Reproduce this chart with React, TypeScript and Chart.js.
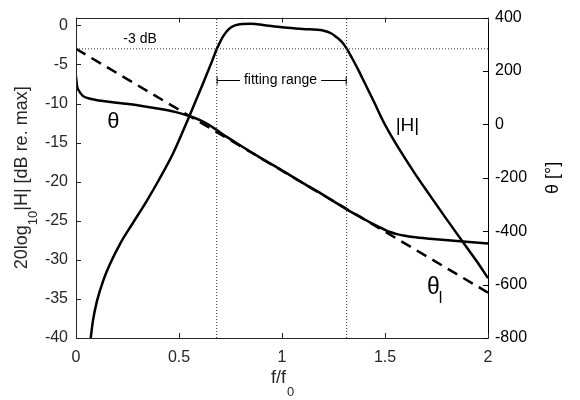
import React, { useEffect, useRef } from 'react';
import { Chart, registerables } from 'chart.js';

Chart.register(...registerables);

// ---- data ----
const magFreq = [0.0714, 0.0825, 0.102, 0.131, 0.17, 0.218, 0.277, 0.34, 0.403, 0.471, 0.544, 0.617, 0.66, 0.684, 0.714, 0.743, 0.772, 0.806, 0.854, 0.908, 1.0, 1.1, 1.199, 1.238, 1.267, 1.291, 1.314, 1.34, 1.369, 1.403, 1.447, 1.49, 1.534, 1.573, 1.646, 1.718, 1.796, 1.879, 1.942, 2.0];
const magDb = [-40, -37.75, -35.25, -32.75, -30.25, -27.75, -25.25, -22.6, -19.75, -16.4, -12, -7.4, -4.6, -3, -1.4, -0.44, 0, 0.19, 0.21, 0.06, -0.24, -0.45, -0.66, -1.0, -1.56, -2.12, -2.96, -4.19, -5.62, -7.44, -9.81, -12.2, -14.3, -16, -19, -21.75, -24.69, -27.75, -30.06, -32.34];

const phaseFreq = [0, 0.005, 0.015, 0.033, 0.06, 0.097, 0.17, 0.243, 0.32, 0.403, 0.48, 0.55, 0.602, 0.647, 0.683, 0.728, 0.8, 0.9, 1.0, 1.1, 1.2, 1.314, 1.35, 1.39, 1.427, 1.456, 1.476, 1.5, 1.524, 1.558, 1.597, 1.636, 1.718, 1.864, 2.0];
const phaseDeg = [180, 144, 125, 107, 98, 91.6, 83.5, 77, 69, 58.7, 47, 31.6, 16, -2.4, -21, -45, -80, -127, -172, -219, -264, -318, -334, -351, -367, -378, -386, -395, -403, -411, -417, -421.5, -428, -437.8, -445.8];

const fitFreq = [0, 2];
const fitDeg = [283, -630];

const fitRange = [0.683, 1.314];
const cutoffDb = -3;

const xTicks = [0, 0.5, 1, 1.5, 2];
const leftTicks = [-40, -35, -30, -25, -20, -15, -10, -5, 0];
const rightTicks = [-800, -600, -400, -200, 0, 200, 400];

const xRange = [0, 2];
const leftRange = [-40, 1];
const rightRange = [-800, 400];

// annotation anchors (data units: f, dB on left axis)
const labelTheta = { f: 0.182, db: -12.4, text: 'θ' };
const labelH = { f: 1.609, db: -12.9, text: '|H|' };
const labelThetaL = { f: 1.704, db: -33.6, text: 'θ', sub: 'l' };
const labelCutoff = { f: 0.311, db: -1.75, text: '-3 dB' };
const labelFit = { f: 0.993, db: -6.94, text: 'fitting range' };

const FONT = '"Liberation Sans", Arial, Helvetica, sans-serif';

const pts = (xs: number[], ys: number[]) => xs.map((x, i) => ({ x, y: ys[i] }));

const overlay = {
  id: 'overlay',
  afterDraw(chart: any) {
    const { ctx, chartArea: a, scales } = chart;
    const xs = scales.x, yl = scales.y, yr = scales.y2;
    ctx.save();

    // frame
    ctx.lineWidth = 1;
    ctx.strokeStyle = '#262626';
    ctx.beginPath();
    ctx.moveTo(Math.round(a.right) + 0.5, Math.round(a.top) + 0.5);
    ctx.lineTo(Math.round(a.left) + 0.5, Math.round(a.top) + 0.5);
    ctx.lineTo(Math.round(a.left) + 0.5, Math.round(a.bottom) + 0.5);
    ctx.lineTo(Math.round(a.right) + 0.5, Math.round(a.bottom) + 0.5);
    ctx.stroke();
    ctx.strokeStyle = '#000';
    ctx.beginPath();
    ctx.moveTo(Math.round(a.right) + 0.5, Math.round(a.top) + 0.5);
    ctx.lineTo(Math.round(a.right) + 0.5, Math.round(a.bottom) + 0.5);
    ctx.stroke();

    // inward ticks
    const tl = 5;
    ctx.strokeStyle = '#262626';
    ctx.beginPath();
    xTicks.forEach((v) => {
      const px = Math.round(xs.getPixelForValue(v)) + 0.5;
      ctx.moveTo(px, a.bottom);
      ctx.lineTo(px, a.bottom - tl);
      ctx.moveTo(px, a.top);
      ctx.lineTo(px, a.top + tl);
    });
    leftTicks.forEach((v) => {
      const py = Math.round(yl.getPixelForValue(v)) + 0.5;
      ctx.moveTo(a.left, py);
      ctx.lineTo(a.left + tl, py);
    });
    ctx.stroke();
    ctx.strokeStyle = '#000';
    ctx.beginPath();
    rightTicks.forEach((v) => {
      const py = Math.round(yr.getPixelForValue(v)) + 0.5;
      ctx.moveTo(a.right, py);
      ctx.lineTo(a.right - tl, py);
    });
    ctx.stroke();

    // axis titles
    ctx.fillStyle = '#262626';
    const mainF = `18px ${FONT}`;
    const subF = `13px ${FONT}`;
    ctx.font = mainF;
    const w1 = ctx.measureText('f/f').width;
    ctx.font = subF;
    const w2 = ctx.measureText('0').width;
    const cx = (a.left + a.right) / 2;
    const sx = cx - (w1 + w2) / 2;
    ctx.textBaseline = 'alphabetic';
    ctx.textAlign = 'left';
    ctx.font = mainF;
    ctx.fillText('f/f', sx, 383);
    ctx.font = subF;
    ctx.fillText('0', sx + w1 + 1, 396);

    // left title
    ctx.save();
    const cy = (a.top + a.bottom) / 2;
    ctx.translate(27, cy);
    ctx.rotate(-Math.PI / 2);
    const parts: [string, string, number][] = [
      ['20log', mainF, 0],
      ['10', subF, 10],
      ['|H| [dB re. max]', mainF, 0],
    ];
    let total = 0;
    parts.forEach(([t, f]) => { ctx.font = f; total += ctx.measureText(t).width; });
    let px = -total / 2;
    parts.forEach(([t, f, dy]) => {
      ctx.font = f;
      ctx.fillText(t, px, dy);
      px += ctx.measureText(t).width;
    });
    ctx.restore();

    // right title
    ctx.save();
    ctx.fillStyle = '#000';
    ctx.translate(558, cy);
    ctx.rotate(-Math.PI / 2);
    ctx.font = mainF;
    ctx.textAlign = 'center';
    ctx.fillText('θ [°]', 0, 0);
    ctx.restore();

    // annotations
    ctx.fillStyle = '#000';
    ctx.textBaseline = 'middle';
    ctx.textAlign = 'center';
    ctx.font = `22px ${FONT}`;
    ctx.fillText(labelTheta.text, xs.getPixelForValue(labelTheta.f), yl.getPixelForValue(labelTheta.db));
    ctx.font = `19px ${FONT}`;
    ctx.fillText(labelH.text, xs.getPixelForValue(labelH.f), yl.getPixelForValue(labelH.db));
    ctx.textAlign = 'left';
    ctx.font = `23px ${FONT}`;
    const tlx = xs.getPixelForValue(labelThetaL.f);
    const tly = yl.getPixelForValue(labelThetaL.db);
    ctx.fillText(labelThetaL.text, tlx, tly);
    const tw = ctx.measureText(labelThetaL.text).width;
    ctx.font = `16px ${FONT}`;
    ctx.fillText(labelThetaL.sub, tlx + tw - 1, tly + 11);

    ctx.textAlign = 'center';
    ctx.font = `14px ${FONT}`;
    ctx.fillText(labelCutoff.text, xs.getPixelForValue(labelCutoff.f), yl.getPixelForValue(labelCutoff.db));

    // fitting range
    const fx = xs.getPixelForValue(labelFit.f);
    const fy = yl.getPixelForValue(labelFit.db);
    ctx.fillText(labelFit.text, fx, fy);
    const twf = ctx.measureText(labelFit.text).width;
    const x0 = xs.getPixelForValue(fitRange[0]);
    const x1 = xs.getPixelForValue(fitRange[1]);
    const ly = Math.round(fy) + 0.5;
    ctx.strokeStyle = '#000';
    ctx.lineWidth = 1;
    ctx.beginPath();
    ctx.moveTo(x0, ly);
    ctx.lineTo(fx - twf / 2 - 4, ly);
    ctx.moveTo(fx + twf / 2 + 4, ly);
    ctx.lineTo(x1, ly);
    ctx.moveTo(x0 + 0.5, ly - 4);
    ctx.lineTo(x0 + 0.5, ly + 4);
    ctx.moveTo(x1 - 0.5, ly - 4);
    ctx.lineTo(x1 - 0.5, ly + 4);
    ctx.stroke();

    ctx.restore();
  },
};

export default function App() {
  const ref = useRef<HTMLCanvasElement | null>(null);

  useEffect(() => {
    document.body.style.margin = '0';
    const canvas = ref.current;
    if (!canvas) return;
    const tickFont = { family: FONT, size: 16 };
    const dotted = { borderColor: '#333', borderWidth: 1, borderDash: [1, 2], pointRadius: 0, fill: false, tension: 0 };
    const chart = new Chart(canvas, {
      type: 'line',
      data: {
        datasets: [
          { ...dotted, data: pts(xRange, [cutoffDb, cutoffDb]), yAxisID: 'y' },
          { ...dotted, data: pts([fitRange[0], fitRange[0]], leftRange), yAxisID: 'y' },
          { ...dotted, data: pts([fitRange[1], fitRange[1]], leftRange), yAxisID: 'y' },
          {
            data: pts(fitFreq, fitDeg), yAxisID: 'y2', borderColor: '#000', borderWidth: 2.5,
            borderDash: [11, 7], pointRadius: 0, fill: false,
          },
          {
            data: pts(phaseFreq, phaseDeg), yAxisID: 'y2', borderColor: '#000', borderWidth: 2.5,
            pointRadius: 0, fill: false, cubicInterpolationMode: 'monotone',
          },
          {
            data: pts(magFreq, magDb), yAxisID: 'y', borderColor: '#000', borderWidth: 2.5,
            pointRadius: 0, fill: false, cubicInterpolationMode: 'monotone',
          },
        ],
      },
      options: {
        animation: false,
        responsive: true,
        maintainAspectRatio: false,
        layout: { padding: { top: 10, left: 0, right: 0, bottom: 0 } },
        plugins: { legend: { display: false }, tooltip: { enabled: false } },
        scales: {
          x: {
            type: 'linear', position: 'bottom', min: xRange[0], max: xRange[1],
            grid: { display: false, drawTicks: false }, border: { display: false },
            ticks: { font: tickFont, color: '#262626', padding: 10, maxRotation: 0, callback: (v: any) => String(v) },
            afterBuildTicks: (s: any) => { s.ticks = xTicks.map((v) => ({ value: v })); },
            afterFit: (s: any) => { s.height = 62; },
          },
          y: {
            type: 'linear', position: 'left', min: leftRange[0], max: leftRange[1],
            grid: { display: false, drawTicks: false }, border: { display: false },
            ticks: { font: tickFont, color: '#262626', padding: 8 },
            afterBuildTicks: (s: any) => { s.ticks = leftTicks.map((v) => ({ value: v })); },
            afterFit: (s: any) => { s.width = 76; },
          },
          y2: {
            type: 'linear', position: 'right', min: rightRange[0], max: rightRange[1],
            grid: { display: false, drawTicks: false }, border: { display: false },
            ticks: { font: tickFont, color: '#000', padding: 7 },
            afterBuildTicks: (s: any) => { s.ticks = rightTicks.map((v) => ({ value: v })); },
            afterFit: (s: any) => { s.width = 92; },
          },
        },
      },
      plugins: [overlay],
    } as any);
    return () => chart.destroy();
  }, []);

  return (
    <div style={{ width: 580, height: 400, position: 'relative' }}>
      <canvas ref={ref} />
    </div>
  );
}
